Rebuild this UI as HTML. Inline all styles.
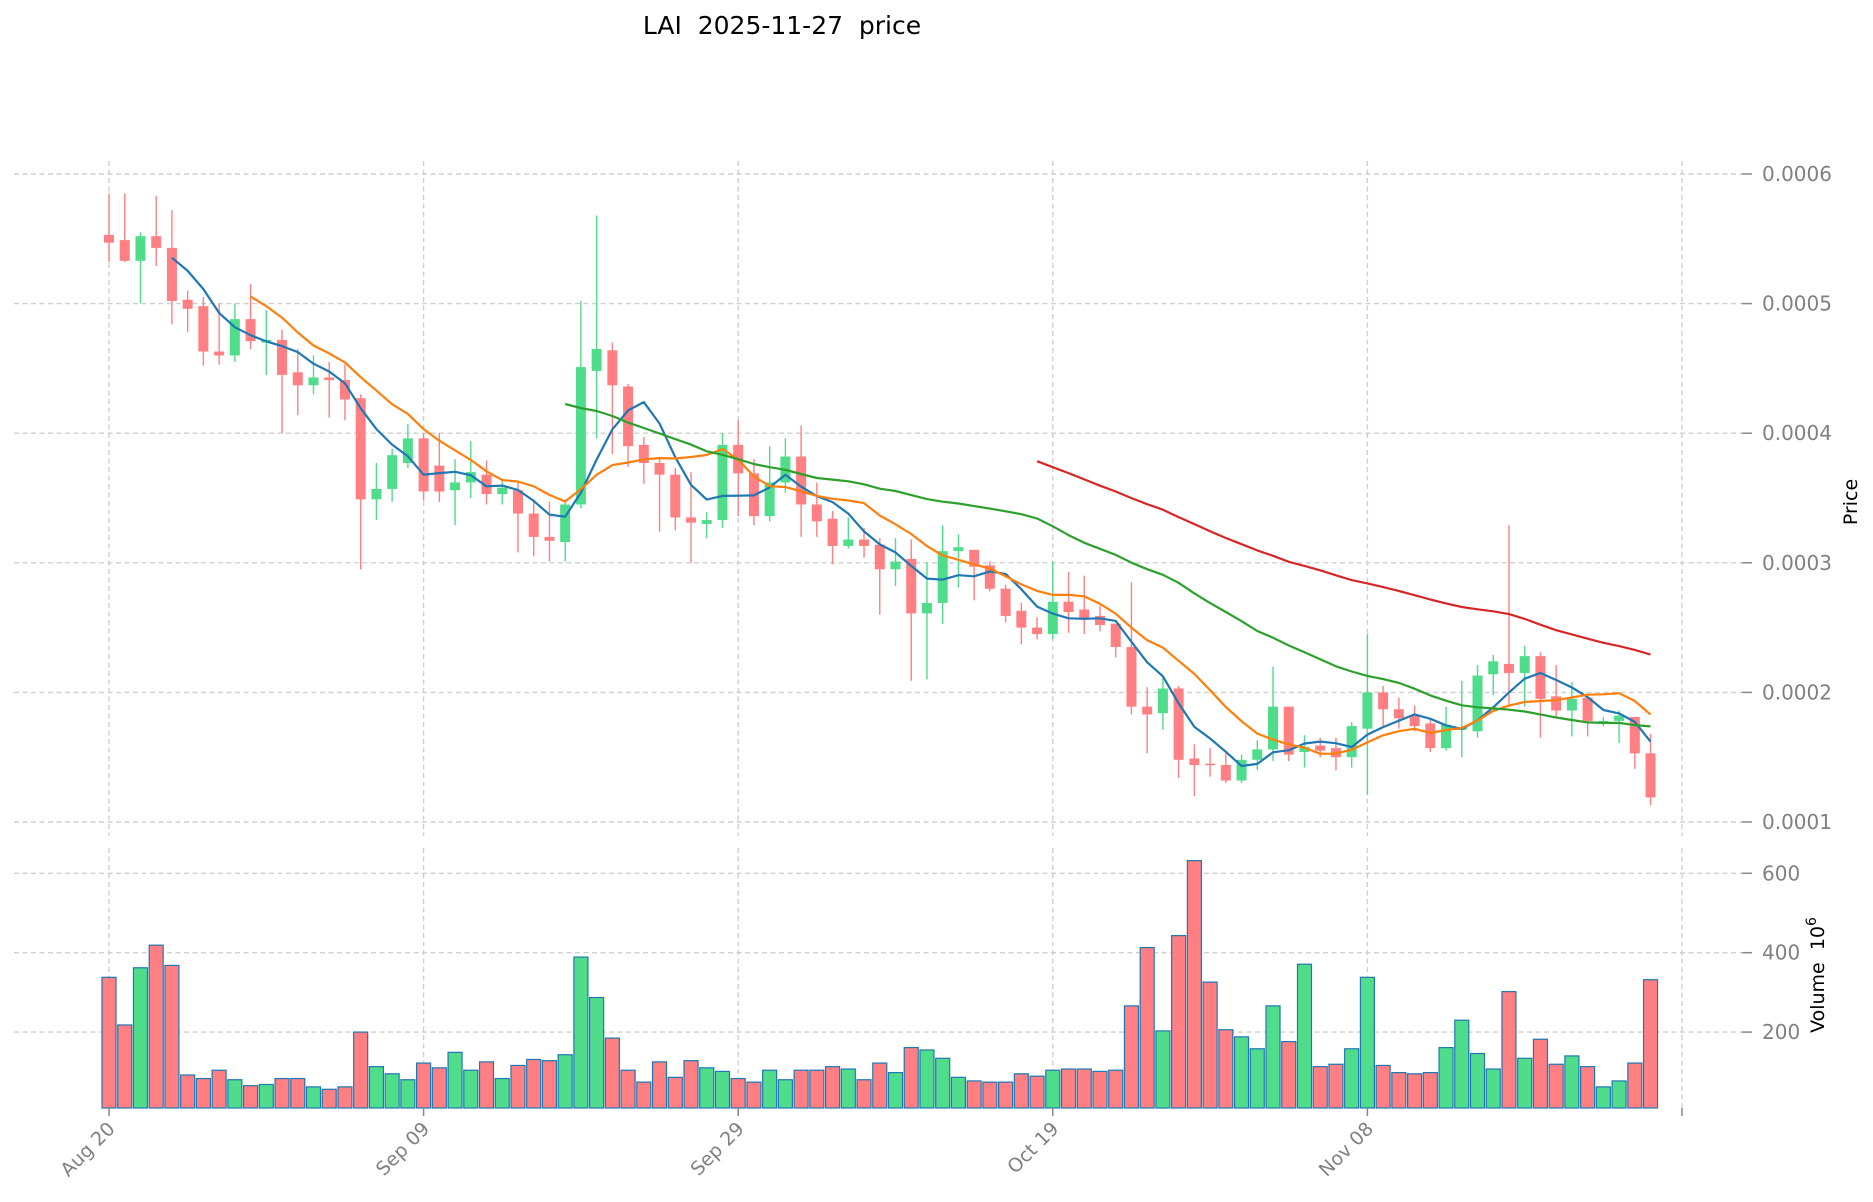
<!DOCTYPE html>
<html><head><meta charset="utf-8"><style>
html,body{margin:0;padding:0;background:#fff;}
svg{display:block;font-family:"DejaVu Sans","Liberation Sans",sans-serif;}
</style></head><body>
<svg id="chart" width="1873" height="1202" viewBox="0 0 1873 1202" xmlns="http://www.w3.org/2000/svg">
<text x="782" y="34" font-size="25" text-anchor="middle" fill="#000" xml:space="preserve" style="white-space:pre">LAI  2025-11-27  price</text>
<g id="grid"></g>
<g id="vol"></g>
<g id="candles"></g>
<g id="mas"></g>
<g id="axes"></g>
<text transform="translate(1857,502) rotate(-90)" font-size="19" text-anchor="middle" fill="#000">Price</text>
<text transform="translate(1824,975) rotate(-90)" font-size="19" text-anchor="middle" fill="#000" xml:space="preserve" style="white-space:pre">Volume  10<tspan dy="-8" font-size="14">6</tspan></text>
</svg>
<script>
const opens  =[5.53,5.49,5.33,5.52,5.43,5.03,4.98,4.63,4.60,4.88,4.70,4.72,4.47,4.37,4.43,4.41,4.27,3.49,3.57,3.77,3.96,3.75,3.56,3.62,3.68,3.53,3.56,3.38,3.20,3.16,3.45,4.48,4.64,4.36,3.91,3.77,3.68,3.35,3.30,3.33,3.91,3.69,3.36,3.62,3.82,3.45,3.34,3.13,3.18,3.14,2.95,3.03,2.61,2.69,3.09,3.10,2.98,2.80,2.63,2.50,2.45,2.70,2.64,2.59,2.53,2.35,1.89,1.84,2.03,1.49,1.45,1.44,1.32,1.48,1.56,1.89,1.54,1.59,1.57,1.50,1.72,2.00,1.87,1.82,1.76,1.57,1.71,1.70,2.14,2.22,2.15,2.28,1.97,1.86,1.96,1.77,1.78,1.81,1.53];
const highs  =[5.85,5.85,5.55,5.83,5.72,5.10,5.05,5.00,5.00,5.15,4.95,4.80,4.65,4.60,4.55,4.53,4.30,3.77,3.88,4.07,4.00,4.00,3.80,3.94,3.79,3.65,3.63,3.49,3.47,3.49,5.02,5.68,4.70,4.38,3.97,3.80,3.73,3.70,3.39,4.00,4.10,3.80,3.90,3.96,4.06,3.62,3.40,3.35,3.27,3.19,3.19,3.18,3.00,3.29,3.22,3.10,3.01,2.83,2.69,2.58,3.01,2.93,2.90,2.67,2.53,2.85,2.04,2.11,2.05,1.60,1.57,1.53,1.52,1.63,2.20,1.89,1.67,1.65,1.65,1.77,2.45,2.05,1.96,1.90,1.79,1.89,2.09,2.21,2.29,3.29,2.36,2.31,2.21,2.08,1.99,1.81,1.86,1.81,1.68];
const lows   =[5.32,5.32,5.00,5.29,4.84,4.78,4.52,4.53,4.55,4.65,4.45,4.00,4.14,4.30,4.12,4.10,2.95,3.33,3.47,3.73,3.48,3.47,3.29,3.50,3.45,3.45,3.08,3.05,3.01,3.01,3.42,3.96,3.84,3.74,3.61,3.24,3.25,3.00,3.19,3.27,3.36,3.29,3.32,3.54,3.20,3.20,2.99,3.11,3.04,2.60,2.82,2.09,2.10,2.53,2.81,2.71,2.78,2.54,2.37,2.41,2.41,2.46,2.45,2.47,2.27,1.83,1.53,1.71,1.34,1.20,1.35,1.30,1.30,1.40,1.47,1.47,1.42,1.50,1.40,1.42,1.21,1.74,1.72,1.70,1.54,1.55,1.50,1.65,1.98,1.89,1.89,1.65,1.81,1.66,1.66,1.74,1.61,1.41,1.13];
const closes =[5.47,5.33,5.52,5.43,5.02,4.96,4.63,4.60,4.88,4.71,4.72,4.45,4.37,4.43,4.41,4.26,3.49,3.57,3.83,3.96,3.55,3.55,3.62,3.70,3.53,3.58,3.38,3.20,3.17,3.45,4.51,4.65,4.37,3.90,3.77,3.68,3.35,3.31,3.33,3.91,3.69,3.36,3.62,3.82,3.45,3.32,3.13,3.18,3.13,2.95,3.01,2.61,2.69,3.09,3.12,2.97,2.80,2.59,2.50,2.45,2.70,2.62,2.57,2.52,2.35,1.89,1.83,2.03,1.48,1.44,1.44,1.32,1.48,1.56,1.89,1.52,1.58,1.55,1.50,1.74,2.00,1.87,1.80,1.74,1.57,1.75,1.73,2.13,2.24,2.15,2.28,1.95,1.86,1.95,1.78,1.78,1.82,1.53,1.19];
const volumes=[338,218,362,419,368,92,83,104,80,65,68,83,83,62,56,62,200,113,95,80,122,110,149,104,125,83,116,131,128,143,389,287,185,104,74,125,86,128,110,101,83,74,104,80,104,104,113,107,80,122,98,161,155,134,86,77,74,74,95,89,104,107,107,101,104,266,413,203,443,632,326,206,188,158,266,176,371,113,119,158,338,116,98,95,98,161,230,146,107,302,134,182,119,140,113,62,77,122,332];
const xTickLabels=["Aug 20","Sep 09","Sep 29","Oct 19","Nov 08"];
const xTickIdx=[0,20,40,60,80];
const priceTicks=[1,2,3,4,5,6];
const priceTickLabels=["0.0001","0.0002","0.0003","0.0004","0.0005","0.0006"];
const volTicks=[200,400,600];
const maPeriods=[5,10,30,60];
const maColors=["#1f77b4","#ff7f0e","#2ca02c","#d62728"];

const NS="http://www.w3.org/2000/svg";
const X0=109, DX=15.73;
const xs=i=>X0+i*DX;
const py=p=>822-(p-1)*129.6;
const vy=v=>1111.5-v*0.397;
const VBOT=1108;
const UP="#4fdd8b", DOWN="#ff7f82";
function mk(tag,parent,attrs){const e=document.createElementNS(NS,tag);for(const k in attrs)e.setAttribute(k,attrs[k]);parent.appendChild(e);return e;}
const grid=document.getElementById('grid'),vol=document.getElementById('vol'),cg=document.getElementById('candles'),mg=document.getElementById('mas'),ax=document.getElementById('axes');
const gstyle={stroke:"#cfcfcf","stroke-width":1.4,"stroke-dasharray":"5,3.5",fill:"none"};
priceTicks.forEach((t,k)=>{
  const y=py(t);
  const l=mk('line',grid,Object.assign({x1:14,x2:1742,y1:y,y2:y},gstyle));
  
  const tk=mk('line',ax,{x1:1742,x2:1752,y1:y,y2:y,stroke:"#888","stroke-width":1.5});
  
  const tx=mk('text',ax,{x:1762,y:y+7,"font-size":20,fill:"#808080"});
  
  tx.textContent=priceTickLabels[k];
});
volTicks.forEach(t=>{
  const y=vy(t);
  const l=mk('line',grid,Object.assign({x1:14,x2:1742,y1:y,y2:y},gstyle));
  
  const tk=mk('line',ax,{x1:1742,x2:1752,y1:y,y2:y,stroke:"#888","stroke-width":1.5});
  
  const tx=mk('text',ax,{x:1762,y:y+7,"font-size":20,fill:"#808080"});
  
  tx.textContent=String(t);
});
const vxs=xTickIdx.map(i=>xs(i)).concat([xs(xTickIdx[xTickIdx.length-1]+20)]);
vxs.forEach(x=>{
  const a=mk('line',grid,Object.assign({x1:x,x2:x,y1:161,y2:836},gstyle));
  
  const b=mk('line',grid,Object.assign({x1:x,x2:x,y1:848,y2:VBOT},gstyle));
  
  const tk=mk('line',ax,{x1:x,x2:x,y1:VBOT,y2:VBOT+8,stroke:"#888","stroke-width":1.5});
  
});
xTickIdx.forEach((i,k)=>{
  const x=xs(i);
  const t=mk('text',ax,{transform:`translate(${x+7},${VBOT+22}) rotate(-45)`,"font-size":19,fill:"#808080","text-anchor":"end"});
  
  t.textContent=xTickLabels[k];
});
closes.forEach((c,i)=>{
  const o=opens[i],up=c>=o,col=up?UP:DOWN,x=xs(i);
  const top=Math.min(vy(volumes[i]),VBOT);
  const b=mk('rect',vol,{x:x-7,y:top,width:14,height:VBOT-top,fill:col,stroke:"#1f77b4","stroke-width":1.2});
  
  const w=mk('line',cg,{x1:x,x2:x,y1:py(highs[i]),y2:py(lows[i]),stroke:col,"stroke-width":1.4});
  
  const y1=py(Math.max(o,c)),y2=py(Math.min(o,c));
  const r=mk('rect',cg,{x:x-5,y:y1,width:10,height:Math.max(y2-y1,1.5),fill:col});
  
});
maPeriods.forEach((n,k)=>{
  const pts=[];
  for(let i=n-1;i<closes.length;i++){let s=0;for(let j=i-n+1;j<=i;j++)s+=closes[j];pts.push(xs(i).toFixed(1)+','+py(s/n).toFixed(1));}
  const p=mk('polyline',mg,{points:pts.join(' '),fill:"none",stroke:maColors[k],"stroke-width":2.2,"stroke-linejoin":"round"});
  
});
</script>
</body></html>
